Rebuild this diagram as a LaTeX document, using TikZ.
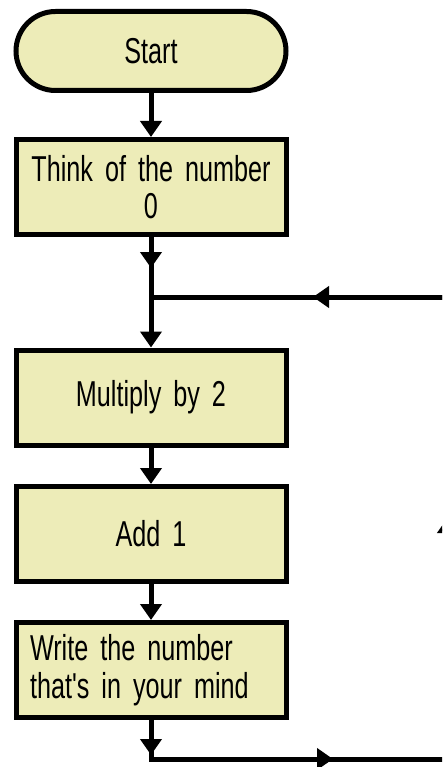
\documentclass[tikz,border=0pt]{standalone}
\usepackage{fontspec}
\setmainfont{Liberation Sans}[FakeStretch=0.70,Ligatures=TeXOff]
\usetikzlibrary{arrows.meta}
\definecolor{boxfill}{RGB}{237,236,184}
% condensed box lettering
\newcommand\flowfont{\fontsize{36}{37.5}\selectfont}
\begin{document}
\begin{tikzpicture}[x=1pt,y=-1pt,
  flow/.style={line width=5pt},
  tip/.style={-{Triangle[length=16pt,width=21pt]}},
  boxtext/.style={font=\flowfont},
  terminal/.style={boxtext, draw, line width=5pt, fill=boxfill,
    minimum width=270pt, minimum height=79pt, rounded corners=39.5pt},
  procbox/.style={boxtext, draw, line width=5pt, fill=boxfill,
    minimum width=270pt, minimum height=95pt, text width=260pt,
    inner xsep=5pt, align=center},
  leftbox/.style={procbox, text width=242pt, inner xsep=14pt, align=left}]
  \useasboundingbox (0,0) rectangle (442,767);
  \clip (0,0) rectangle (442,767);

  % steps of the procedure
  \node[terminal] (start) at (151,51) {Start};
  \node[procbox] (b1) at (151,187) {Think of the number\\0};
  \node[procbox] (b2) at (151,397.5) {Multiply by 2};
  \node[procbox] (b3) at (151,534) {Add 1};
  \node[leftbox] (b4) at (151,670) {Write the number\\that's in your mind};

  % junctions and arrow positions of the loop
  \coordinate (m1) at (151,268);
  \coordinate (j1) at (151,297);
  \coordinate (m4) at (151,755);
  \coordinate (j2) at (151,759);
  \coordinate (r1) at (448,759);
  \coordinate (r2) at (448,297);
  \coordinate (ma) at (333,759);
  \coordinate (mb) at (448,517);
  \coordinate (mc) at (313,297);

  % straight connectors
  \draw[flow,tip] (start) -- (b1);
  \draw[flow] (b1) -- (j1);
  \draw[flow,tip] (b1) -- (m1);
  \draw[flow,tip] (j1) -- (b2);
  \draw[flow,tip] (b2) -- (b3);
  \draw[flow,tip] (b3) -- (b4);

  % loop back to the top
  \draw[flow] (b4) -- (j2) -- (r1) -- (r2) -- (j1);
  \draw[flow,tip] (b4) -- (m4);
  \draw[flow,tip] (j2) -- (ma);
  \draw[flow,tip] (r1) -- (mb);
  \draw[flow,tip] (r2) -- (mc);
\end{tikzpicture}
\end{document}
